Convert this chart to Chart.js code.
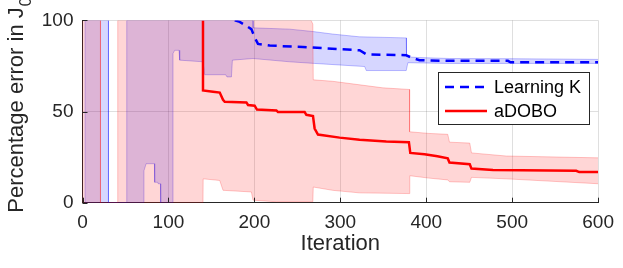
<!DOCTYPE html>
<html>
<head>
<meta charset="utf-8">
<script src="https://cdn.jsdelivr.net/npm/chart.js@4.4.0/dist/chart.umd.min.js"></script>
<style>
    html, body { margin: 0; padding: 0; background: #ffffff; }
    #grafico { display: block; }
</style>
</head>
<body>
<canvas id="grafico" width="623" height="268"></canvas>
<script>
// ticks
const xTicks = [0, 100, 200, 300, 400, 500, 600];
const yTicks = [0, 50, 100];

// Learning K (mean, dashed)
const learnX = [177.1, 182.9, 190.7, 196.5, 200.3, 204.2, 217.8, 256.5, 322.4, 330.2, 376.7, 382.6, 392.2, 427, 495, 498, 600];
const learnY = [100, 99.2, 97, 95.2, 90.7, 87.1, 86.2, 85.4, 83.6, 81.4, 80.9, 79.6, 78.2, 77.8, 77.8, 77, 77];

// Learning K band
const learnUpX = [3, 3, 30.2, 30.2, 51.5, 51.5, 198.4, 198.6, 241, 268, 291, 322, 376.7, 377, 392, 427, 497, 600];
const learnUpY = [0, 100, 100, 0, 0, 100, 100, 95.9, 95.2, 93.9, 92.5, 91, 90.4, 80, 79.6, 79.1, 79, 78.6];
const learnLoX = [3, 71, 71.5, 74, 83.7, 84, 87.6, 88, 90.7, 91, 105, 105.3, 107.3, 112.3, 113.1, 140.2, 142.2, 166.6, 168.1, 173.3, 174.4, 198.4, 241, 270, 328.3, 330.2, 376.7, 378.6, 427, 600];
const learnLoY = [0, 0, 17.5, 21.4, 21.4, 11.2, 11.2, 10.4, 10.4, 0, 0, 81.8, 83.6, 83.6, 78.2, 77.3, 70.2, 70.2, 69, 69, 78.2, 79.1, 77.3, 76.4, 74.7, 72.5, 72.5, 76.8, 76.4, 76.4];

// aDOBO (mean, solid)
const adoboX = [140.2, 140.2, 151.9, 159.7, 163.5, 165.5, 190.7, 192.6, 200.3, 203, 225.6, 227.5, 258.5, 260.5, 268.2, 270.1, 274, 299.2, 322.4, 353.5, 379.8, 381.4, 398, 413, 425, 427, 450.6, 452.6, 477.6, 574.5, 578, 600];
const adoboY = [100, 61.6, 60.9, 60.4, 56.5, 55.4, 55, 53.6, 53.2, 51.1, 50.6, 49.7, 49.7, 48.2, 47.5, 40.7, 37.4, 35.7, 34.5, 33.6, 33.2, 27.3, 26.6, 25.5, 24.3, 22, 21.1, 18.7, 17.9, 17.5, 16.8, 16.8];

// aDOBO band
const adoboUpX = [0, 0, 20.9, 20.9, 41, 41, 266, 268, 268.5, 291, 349.5, 380.6, 380.6, 403, 425, 427, 450.6, 452.6, 493, 600];
const adoboUpY = [0, 100, 100, 0, 0, 100, 100, 98, 67.4, 66.6, 63, 62.1, 38.9, 38, 37.5, 33.2, 32.7, 27.3, 25.6, 24.6];
const adoboLoX = [0, 140.2, 140.4, 159.7, 163.5, 196.5, 198.4, 225.6, 268, 268.5, 291, 322, 380.6, 380.8, 403, 425, 427, 450.6, 452.6, 493, 600];
const adoboLoY = [0, 0, 13.1, 12.2, 6.8, 5.9, 1.4, 0.5, 0.5, 8.6, 6.8, 5.4, 5, 14.8, 13.5, 12.5, 11.5, 11.2, 13.9, 13.1, 10.4];

const fonte = '"Liberation Sans", Arial, Helvetica, sans-serif';
const corTexto = '#262626';

function pontos(xs, ys) {
    return xs.map((x, i) => ({ x: x, y: ys[i] }));
}

// y title with subscript
const tituloY = {
    id: 'tituloY',
    afterDraw(chart) {
        const ctx = chart.ctx;
        const area = chart.chartArea;
        ctx.save();
        ctx.translate(23.3, area.bottom + 10);
        ctx.rotate(-Math.PI / 2);
        ctx.fillStyle = corTexto;
        ctx.textAlign = 'left';
        ctx.textBaseline = 'alphabetic';
        ctx.font = '22px ' + fonte;
        const texto = 'Percentage error in J';
        ctx.fillText(texto, 0, 0);
        const w = ctx.measureText(texto).width;
        ctx.font = '16px ' + fonte;
        ctx.fillText('0', w + 1, 8);
        ctx.restore();
    }
};

// inward tick marks
const marcas = {
    id: 'marcas',
    afterDatasetsDraw(chart) {
        const ctx = chart.ctx;
        const area = chart.chartArea;
        ctx.save();
        ctx.strokeStyle = corTexto;
        ctx.lineWidth = 1;
        xTicks.forEach(v => {
            const px = Math.round(chart.scales.x.getPixelForValue(v)) + 0.5;
            ctx.beginPath();
            ctx.moveTo(px, area.bottom);
            ctx.lineTo(px, area.bottom - 5);
            ctx.stroke();
        });
        yTicks.forEach(v => {
            const py = Math.round(chart.scales.y.getPixelForValue(v)) + 0.5;
            ctx.beginPath();
            ctx.moveTo(area.left, py);
            ctx.lineTo(area.left + 5, py);
            ctx.stroke();
        });
        ctx.restore();
    }
};

// legend box inside the axes
const legenda = {
    id: 'legenda',
    afterDraw(chart) {
        const ctx = chart.ctx;
        const area = chart.chartArea;
        const itens = chart.data.datasets.filter(d => d.naLegenda);
        const x0 = Math.round(area.right - 160) + 0.5;
        const y0 = Math.round(area.top + 52) + 0.5;
        const largura = 151;
        const altura = 52;
        ctx.save();
        ctx.fillStyle = '#ffffff';
        ctx.fillRect(x0, y0, largura, altura);
        ctx.strokeStyle = corTexto;
        ctx.lineWidth = 1;
        ctx.strokeRect(x0, y0, largura, altura);
        ctx.font = '18px ' + fonte;
        ctx.textBaseline = 'middle';
        ctx.textAlign = 'left';
        itens.forEach((d, i) => {
            const y = y0 + 14.5 + i * 24;
            ctx.beginPath();
            ctx.strokeStyle = d.borderColor;
            ctx.lineWidth = d.borderWidth;
            ctx.setLineDash(d.borderDash || []);
            ctx.moveTo(x0 + 6.5, y);
            ctx.lineTo(x0 + 48.5, y);
            ctx.stroke();
            ctx.setLineDash([]);
            ctx.fillStyle = '#000000';
            ctx.fillText(d.label, x0 + 55.5, y + 1);
        });
        ctx.restore();
    }
};

const config = {
    type: 'line',
    data: {
        datasets: [
            {
                label: 'Learning K',
                naLegenda: true,
                data: pontos(learnX, learnY),
                borderColor: '#0000ff',
                borderWidth: 2.5,
                borderDash: [9, 6],
                fill: false,
                pointRadius: 0,
                order: 0
            },
            {
                label: 'aDOBO',
                naLegenda: true,
                data: pontos(adoboX, adoboY),
                borderColor: '#ff0000',
                borderWidth: 2.5,
                fill: false,
                pointRadius: 0,
                order: 1
            },
            {
                label: 'aDOBO upper',
                data: pontos(adoboUpX, adoboUpY),
                borderColor: 'rgba(255,0,0,0.22)',
                borderWidth: 1,
                fill: false,
                pointRadius: 0,
                order: 2
            },
            {
                label: 'aDOBO lower',
                data: pontos(adoboLoX, adoboLoY),
                borderColor: 'rgba(255,0,0,0.22)',
                backgroundColor: 'rgba(255,0,0,0.16)',
                borderWidth: 1,
                fill: '-1',
                pointRadius: 0,
                order: 2
            },
            {
                label: 'Learning K upper',
                data: pontos(learnUpX, learnUpY),
                borderColor: 'rgba(0,0,255,0.25)',
                borderWidth: 1,
                fill: false,
                pointRadius: 0,
                order: 3
            },
            {
                label: 'Learning K lower',
                data: pontos(learnLoX, learnLoY),
                borderColor: 'rgba(0,0,255,0.25)',
                backgroundColor: 'rgba(0,0,255,0.16)',
                borderWidth: 1,
                fill: '-1',
                pointRadius: 0,
                order: 3
            }
        ]
    },
    options: {
        responsive: false,
        animation: false,
        events: [],
        layout: {
            padding: { left: 0, right: 24.3, top: 16, bottom: 0 }
        },
        plugins: {
            legend: { display: false },
            tooltip: { enabled: false }
        },
        elements: {
            line: { tension: 0 }
        },
        scales: {
            x: {
                type: 'linear',
                min: 0,
                max: 600,
                afterBuildTicks: (s) => { s.ticks = xTicks.map(v => ({ value: v })); },
                afterFit: (s) => { s.height = 65.3; },
                grid: { color: 'rgba(38,38,38,0.15)', drawTicks: false },
                border: { display: true, color: corTexto, width: 1 },
                ticks: {
                    color: corTexto,
                    padding: 9,
                    maxRotation: 0,
                    font: { family: fonte, size: 19 }
                },
                title: {
                    display: true,
                    text: 'Iteration',
                    color: corTexto,
                    font: { family: fonte, size: 22 },
                    padding: { top: 0, bottom: 11 }
                }
            },
            y: {
                min: 0,
                max: 100,
                afterBuildTicks: (s) => { s.ticks = yTicks.map(v => ({ value: v })); },
                afterFit: (s) => { s.width = 82.5; },
                grid: { color: 'rgba(38,38,38,0.15)', drawTicks: false },
                border: { display: true, color: corTexto, width: 1 },
                ticks: {
                    color: corTexto,
                    padding: 9,
                    font: { family: fonte, size: 19 }
                }
            }
        }
    },
    plugins: [marcas, tituloY, legenda]
};

const myChart = new Chart(document.getElementById('grafico'), config);
</script>
</body>
</html>
